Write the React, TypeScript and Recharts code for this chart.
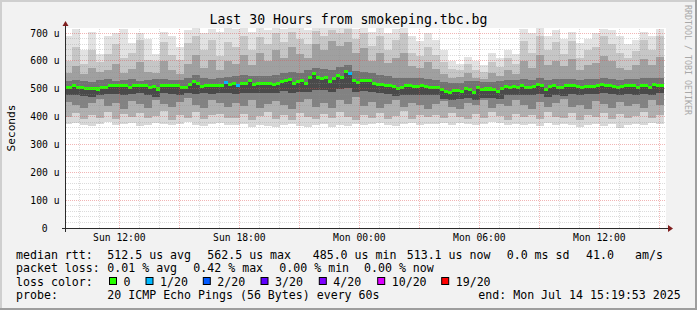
import React from 'react';
import { ComposedChart, Area, XAxis, YAxis, ReferenceLine } from 'recharts';

const FONT = '"DejaVu Sans Mono", "Liberation Mono", monospace';

// median RTT per 12-minute bin (microseconds), 150 bins over 30 hours
const medianRtt = [
  504, 504, 510, 505, 505, 501, 501, 501, 499, 506, 506,
  510, 510, 510, 510, 510, 505, 511, 511, 511, 511,
  504, 507, 499, 513, 513, 513, 513, 510, 504, 504,
  516, 527, 520, 509, 513, 513, 513, 513, 513, 522,
  516, 518, 510, 520, 518, 528, 516, 517,
  517,
  517, 517, 516, 520, 527, 530, 533, 518, 525, 530,
  520, 542, 553, 540, 535, 542, 527, 538, 549, 540,
  562, 555, 529, 523, 529, 529, 529, 519, 516, 516,
  513, 511, 508, 502, 504, 510, 510, 508, 507, 510,
  508, 506, 506, 506, 496, 490, 485, 492, 492, 491,
  502, 496, 487, 504, 496, 499, 499, 496, 489, 502,
  509, 506, 507, 505, 511, 506, 506, 509, 515, 512,
  498, 509, 513, 506, 504, 513, 513, 511, 508, 506,
  509, 509, 509, 511, 516, 513, 513, 509, 506, 508,
  511, 511, 511, 506, 513, 511, 505, 516, 513, 513,
];

// bins where 1 of 20 pings was lost
const lossBins = [40, 43, 71];

// smoke boundaries per 24-minute bin (75 bins), microseconds
const smokeMin = [
  372, 378, 370, 366, 375, 380, 368, 372, 376, 366, 370, 378, 374, 368, 372, 380, 370, 366, 374, 378, 371,
  368, 372, 364, 370, 366, 362, 370, 374, 366, 362, 368, 372, 364, 370, 366, 374, 368, 372, 376, 370, 366, 372, 378, 370, 374,
  372, 376, 370, 378, 374, 368, 372, 380, 376, 370, 374, 368, 372, 366, 376, 370, 374, 368, 362, 370, 374, 366, 372, 360, 368, 374, 370, 376, 372,
];
const smokeLow = [
  400, 412, 392, 404, 396, 418, 390, 408, 398, 414, 394, 402, 420, 388, 406, 396, 416, 392, 404, 410, 396,
  396, 410, 388, 402, 418, 392, 404, 386, 412, 398, 390, 408, 394, 416, 400, 388, 406, 396, 414, 392, 402, 420, 390, 404, 398,
  404, 394, 414, 400, 390, 408, 396, 418, 402, 388, 410, 398, 406, 392, 416, 400, 394, 412, 386, 404, 398, 414, 392, 408, 396, 402, 418, 394, 406,
];
const smokeMid = [
  452, 440, 430, 448, 462, 438, 450, 428, 456, 444, 432, 460, 446, 436, 454, 468, 440, 430, 458, 448, 436,
  450, 438, 460, 432, 446, 456, 440, 428, 452, 462, 436, 448, 430, 458, 444, 470, 438, 452, 430, 446, 460, 434, 450, 442, 426,
  444, 456, 436, 428, 450, 440, 458, 432, 446, 438, 460, 442, 428, 452, 436, 448, 462, 434, 440, 426, 456, 444, 430, 452, 438, 446, 432, 458, 442,
];
const smokeCoreLow = [
  478, 478, 474, 472, 478, 482, 480, 478, 482, 484, 476, 472, 484, 482, 476, 486, 480, 484, 482, 484, 486,
  482, 486, 486, 484, 486, 484, 492, 486, 490, 488, 496, 494, 490, 500, 504, 490, 492, 488, 484, 482, 474, 476, 478, 476, 476,
  476, 462, 460, 464, 466, 460, 468, 466, 462, 476, 476, 478, 476, 482, 470, 476, 474, 482, 478, 480, 480, 484, 480, 476, 482, 478, 482, 476, 484,
];
const smokeCoreHigh = [
  528, 532, 526, 524, 530, 534, 528, 530, 534, 528, 530, 536, 534, 530, 532, 540, 548, 538, 536, 540, 542,
  545, 548, 545, 544, 546, 548, 556, 560, 558, 566, 576, 570, 568, 578, 585, 562, 560, 556, 548, 544, 540, 540, 538, 538, 536,
  532, 524, 520, 522, 528, 528, 524, 524, 526, 532, 532, 534, 532, 538, 532, 536, 536, 536, 532, 534, 536, 540, 536, 532, 536, 534, 538, 540, 538,
];
const smokeHigh = [
  556, 580, 552, 574, 560, 566, 590, 558, 572, 596, 560, 556, 600, 566, 552, 590, 620, 576, 604, 566, 598,
  590, 620, 584, 630, 600, 640, 612, 650, 626, 610, 660, 640, 670, 652, 668, 628, 646, 600, 630, 592, 610, 630, 582, 574, 596,
  570, 552, 540, 542, 556, 540, 536, 556, 546, 566, 552, 600, 576, 620, 584, 600, 580, 606, 566, 584, 592, 618, 600, 576, 566, 584, 606, 584, 614,
];
const smokeUpper = [
  600, 650, 590, 640, 596, 625, 660, 612, 630, 676, 604, 598, 668, 620, 604, 664, 690, 640, 676, 616, 668,
  650, 690, 640, 686, 660, 700, 668, 704, 680, 662, 706, 690, 712, 700, 714, 680, 700, 654, 690, 640, 676, 700, 630, 618, 650,
  620, 596, 572, 568, 590, 566, 560, 596, 578, 612, 590, 672, 630, 690, 640, 666, 626, 672, 610, 640, 650, 690, 660, 628, 612, 636, 676, 640, 690,
];
const smokeMax = [
  690, 715, 640, 705, 625, 690, 700, 715, 665, 700, 680, 625, 705, 690, 650, 710, 720, 700, 715, 705, 720,
  715, 720, 705, 720, 710, 720, 715, 720, 720, 710, 720, 720, 720, 720, 720, 715, 720, 705, 720, 700, 715, 720, 690, 670, 700,
  675, 640, 600, 590, 615, 600, 585, 630, 610, 640, 625, 715, 700, 720, 690, 710, 680, 705, 665, 680, 700, 715, 710, 690, 660, 675, 705, 690, 715,
];

const yTicks = [0, 100, 200, 300, 400, 500, 600, 700];
const yTickLabels = ['0', '100 u', '200 u', '300 u', '400 u', '500 u', '600 u', '700 u'];
const xTickHours = [2.6686, 8.6686, 14.6686, 20.6686, 26.6686];
const xTickLabels = ['Sun 12:00', 'Sun 18:00', 'Mon 00:00', 'Mon 06:00', 'Mon 12:00'];

const statsRtt = ['512.5 us avg', '562.5 us max', '485.0 us min', '513.1 us now', '0.0 ms sd', '41.0', 'am/s'];
const statsLoss = ['0.01 % avg', '0.42 % max', '0.00 % min', '0.00 % now'];
const lossLabels = ['0', '1/20', '2/20', '3/20', '4/20', '10/20', '19/20'];
const lossColors = ['#26ff00', '#00b8ff', '#0059ff', '#5e00ff', '#7e00ff', '#dd00ff', '#ff0000'];

// layout / style (not data)
const BIN_H = 0.2;
const BIN_OFFSET = -0.1;
const HALF_BAND = 5.4;
const rttX = [107.3, 207.3, 312.7, 406.7, 506.7, 586, 635];
const lossX = [107.3, 193.3, 279.3, 364];
const lossBoxX = [109.5, 146, 203.3, 261, 319.3, 377.7, 441.7];

const smokeLayers = [
  { key: 's1', color: '#d8d8d8' },
  { key: 's2', color: '#b0b0b0' },
  { key: 's3', color: '#828282' },
  { key: 's4', color: '#4a4a4a' },
  { key: 's5', color: '#727272' },
  { key: 's6', color: '#a0a0a0' },
  { key: 's7', color: '#c6c6c6' },
  { key: 's8', color: '#e2e2e2' },
];

const rows: any[] = medianRtt.map((m, k) => {
  const j = Math.floor(k / 2);
  const lost = lossBins.includes(k);
  return {
    t: BIN_OFFSET + k * BIN_H,
    s0: smokeMin[j],
    s1: smokeLow[j] - smokeMin[j],
    s2: smokeMid[j] - smokeLow[j],
    s3: smokeCoreLow[j] - smokeMid[j],
    s4: m - smokeCoreLow[j],
    s5: smokeCoreHigh[j] - m,
    s6: smokeHigh[j] - smokeCoreHigh[j],
    s7: smokeUpper[j] - smokeHigh[j],
    s8: smokeMax[j] - smokeUpper[j],
    mBase: m - HALF_BAND,
    mOk: lost ? 0 : 2 * HALF_BAND,
    mLoss: lost ? 2 * HALF_BAND : 0,
  };
});
rows.push({ ...rows[rows.length - 1], t: BIN_OFFSET + medianRtt.length * BIN_H });

const hGrid: number[] = [];
for (let v = 20; v <= 700; v += 20) hGrid.push(v);
const vGrid: { t: number; major: boolean }[] = [];
for (let n = 0; n < 30; n++) vGrid.push({ t: 0.6686 + n, major: (10 + n) % 3 === 0 });

const MINOR = '#8f8f8f';
const MAJOR = '#de4f4f';

const YTick = (p: any) => {
  const v = p.payload.value;
  const i = yTicks.indexOf(v);
  return (
    <text x={v === 0 ? 47.5 : 59.5} y={p.y + 3.5} textAnchor="end" fontFamily={FONT} fontSize={9.7} fill="#000">
      {yTickLabels[i]}
    </text>
  );
};
const XTick = (p: any) => {
  const i = xTickHours.indexOf(p.payload.value);
  return (
    <text x={p.x} y={240.5} textAnchor="middle" fontFamily={FONT} fontSize={9.7} fill="#000">
      {xTickLabels[i]}
    </text>
  );
};

const legendText = (s: string, x: number, y: number, key?: string) => (
  <text key={key} x={x} y={y} fontFamily={FONT} fontSize={11.6} fill="#000">{s}</text>
);

export default function App() {
  return (
    <div style={{ position: 'absolute', left: 0, top: 0, width: 697, height: 310, background: '#f2f2f2', overflow: 'hidden' }}>
      <style>{`.recharts-area-area{shape-rendering:crispEdges}.recharts-reference-line-line{shape-rendering:crispEdges}`}</style>
      <svg width={697} height={310} style={{ position: 'absolute', left: 0, top: 0 }}>
        <rect x={66} y={28} width={600} height={200} fill="#ffffff" />
      </svg>
      <div style={{ position: 'absolute', left: 0, top: 0 }}>
        <ComposedChart width={697} height={310} data={rows} margin={{ top: 28, right: 31, bottom: 62, left: 0 }}>
          <XAxis dataKey="t" type="number" domain={[0, 30]} allowDataOverflow ticks={xTickHours} interval={0}
            height={20} axisLine={false} tickLine={false} tick={XTick} />
          <YAxis type="number" domain={[0, 718]} allowDataOverflow ticks={yTicks} interval={0}
            width={66} axisLine={false} tickLine={false} tick={YTick} />
          <Area dataKey="s0" stackId="s" type="stepAfter" fill="#ffffff" fillOpacity={0} stroke="none"
            isAnimationActive={false} dot={false} activeDot={false} />
          {smokeLayers.map((l) => (
            <Area key={l.key} dataKey={l.key} stackId="s" type="stepAfter" fill={l.color} fillOpacity={1} stroke="none"
              isAnimationActive={false} dot={false} activeDot={false} />
          ))}
          {hGrid.map((v) => (
            <ReferenceLine key={'h' + v} y={v} stroke={v % 100 === 0 ? MAJOR : MINOR}
              strokeOpacity={v % 100 === 0 ? 0.42 : 0.32} strokeDasharray="1 1" strokeWidth={1} />
          ))}
          {vGrid.map((g) => (
            <ReferenceLine key={'v' + g.t} x={g.t} stroke={g.major ? MAJOR : MINOR}
              strokeOpacity={g.major ? 0.42 : 0.32} strokeDasharray="1 1" strokeWidth={1} />
          ))}
          <Area dataKey="mBase" stackId="m" type="stepAfter" fill="#ffffff" fillOpacity={0} stroke="none"
            isAnimationActive={false} dot={false} activeDot={false} />
          <Area dataKey="mOk" stackId="m" type="stepAfter" fill={lossColors[0]} fillOpacity={1} stroke="none"
            isAnimationActive={false} dot={false} activeDot={false} />
          <Area dataKey="mLoss" stackId="m" type="stepAfter" fill={lossColors[1]} fillOpacity={1} stroke="none"
            isAnimationActive={false} dot={false} activeDot={false} />
        </ComposedChart>
      </div>
      <svg width={697} height={310} style={{ position: 'absolute', left: 0, top: 0, pointerEvents: 'none' }}>
        <rect x={0} y={0} width={697} height={2} fill="#cfcfcf" />
        <rect x={0} y={0} width={2} height={310} fill="#cfcfcf" />
        <rect x={0} y={308} width={697} height={2} fill="#9e9e9e" />
        <rect x={695} y={0} width={2} height={310} fill="#9e9e9e" />
        <line x1={62} y1={228.5} x2={670} y2={228.5} stroke="#2a2a2a" strokeWidth={1} />
        <line x1={65.5} y1={232} x2={65.5} y2={24} stroke="#2a2a2a" strokeWidth={1} />
        <polygon points="668,225 668,232 673,228.5" fill="#801f1f" />
        <polygon points="62.5,26 68.5,26 65.5,21" fill="#801f1f" />
        <text x={348.5} y={24} textAnchor="middle" fontFamily={FONT} fontSize={13.2} fill="#000">
          Last 30 Hours from smokeping.tbc.bg
        </text>
        <text transform="translate(14.5,128) rotate(-90)" textAnchor="middle" fontFamily={FONT} fontSize={11.2} fill="#000">
          Seconds
        </text>
        <text transform="translate(685,5) rotate(90)" fontFamily={FONT} fontSize={8.3} fill="#a8a8a8">
          RRDTOOL / TOBI OETIKER
        </text>
        {legendText('median rtt:', 16, 258.5)}
        {statsRtt.map((s, i) => legendText(s, rttX[i], 258.5, 'r' + i))}
        {legendText('packet loss:', 16, 272)}
        {statsLoss.map((s, i) => legendText(s, lossX[i], 272, 'l' + i))}
        {legendText('loss color:', 16, 285.5)}
        {lossLabels.map((s, i) => (
          <g key={'c' + i}>
            <rect x={lossBoxX[i]} y={277.5} width={7} height={7} fill={lossColors[i]} stroke="#000" strokeWidth={1} />
            {legendText(s, lossBoxX[i] + 14, 285.5)}
          </g>
        ))}
        {legendText('probe:', 16, 299)}
        {legendText('20 ICMP Echo Pings (56 Bytes) every 60s', 107.3, 299)}
        {legendText('end: Mon Jul 14 15:19:53 2025', 478.3, 299)}
      </svg>
    </div>
  );
}
